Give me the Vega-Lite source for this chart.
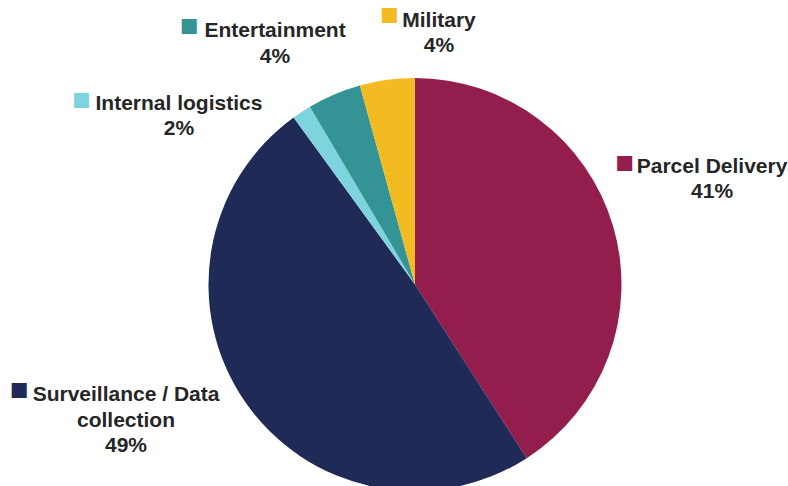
{
  "$schema": "https://vega.github.io/schema/vega-lite/v6.json",
  "width": 746,
  "height": 401,
  "autosize": {"type": "none"},
  "padding": {"left": 42, "top": 84, "right": 0, "bottom": 1},
  "background": "white",
  "config": {"view": {"stroke": null}},
  "data": {
    "values": [
      {"category": "Parcel Delivery", "share": 40.9, "slice": 1, "label": "Parcel Delivery\n41%"},
      {"category": "Surveillance / Data collection", "share": 49.1, "slice": 2, "label": "Surveillance / Data\ncollection\n49%"},
      {"category": "Internal logistics", "share": 1.5, "slice": 3, "label": "Internal logistics\n2%"},
      {"category": "Entertainment", "share": 4.2, "slice": 4, "label": "Entertainment\n4%"},
      {"category": "Military", "share": 4.3, "slice": 5, "label": "Military\n4%"}
    ]
  },
  "encoding": {
    "theta": {"field": "share", "type": "quantitative", "stack": true},
    "order": {"field": "slice", "type": "quantitative"},
    "color": {
      "field": "category",
      "type": "nominal",
      "legend": null,
      "scale": {
        "domain": ["Parcel Delivery", "Surveillance / Data collection", "Internal logistics", "Entertainment", "Military"],
        "range": ["#931D4D", "#1F2A56", "#7DD4DF", "#349394", "#F2BB22"]
      }
    },
    "detail": {"field": "category", "type": "nominal"}
  },
  "layer": [
    {"mark": {"type": "arc", "radius": 206.5}},
    {
      "mark": {"type": "text", "radius": 260, "dx": 47.6, "dy": -38.2, "font": "Liberation Sans", "fontWeight": "bold", "fontSize": 21, "lineHeight": 25.5, "lineBreak": "\n", "align": "center", "baseline": "alphabetic"},
      "encoding": {"text": {"condition": {"test": "datum.category === 'Parcel Delivery'", "field": "label", "type": "nominal"}, "value": ""}, "fill": {"value": "#262626"}}
    },
    {
      "mark": {"type": "text", "radius": 260, "dx": -74.4, "dy": -30.3, "font": "Liberation Sans", "fontWeight": "bold", "fontSize": 21, "lineHeight": 25.5, "lineBreak": "\n", "align": "center", "baseline": "alphabetic"},
      "encoding": {"text": {"condition": {"test": "datum.category === 'Surveillance / Data collection'", "field": "label", "type": "nominal"}, "value": ""}, "fill": {"value": "#262626"}}
    },
    {
      "mark": {"type": "text", "radius": 260, "dx": -93.3, "dy": 42.8, "font": "Liberation Sans", "fontWeight": "bold", "fontSize": 21, "lineHeight": 25.5, "lineBreak": "\n", "align": "center", "baseline": "alphabetic"},
      "encoding": {"text": {"condition": {"test": "datum.category === 'Internal logistics'", "field": "label", "type": "nominal"}, "value": ""}, "fill": {"value": "#262626"}}
    },
    {
      "mark": {"type": "text", "radius": 260, "dx": -38.2, "dy": -8.2, "font": "Liberation Sans", "fontWeight": "bold", "fontSize": 21, "lineHeight": 25.5, "lineBreak": "\n", "align": "center", "baseline": "alphabetic"},
      "encoding": {"text": {"condition": {"test": "datum.category === 'Entertainment'", "field": "label", "type": "nominal"}, "value": ""}, "fill": {"value": "#262626"}}
    },
    {
      "mark": {"type": "text", "radius": 260, "dx": 59, "dy": 0.1, "font": "Liberation Sans", "fontWeight": "bold", "fontSize": 21, "lineHeight": 25.5, "lineBreak": "\n", "align": "center", "baseline": "alphabetic"},
      "encoding": {"text": {"condition": {"test": "datum.category === 'Military'", "field": "label", "type": "nominal"}, "value": ""}, "fill": {"value": "#262626"}}
    },
    {
      "mark": {"type": "text", "radius": 260, "dx": -39.9, "dy": -38.0, "font": "Liberation Sans", "fontSize": 31, "align": "center", "baseline": "alphabetic"},
      "encoding": {"text": {"condition": {"test": "datum.category === 'Parcel Delivery'", "value": "■"}, "value": ""}}
    },
    {
      "mark": {"type": "text", "radius": 260, "dx": -181.4, "dy": -31.3, "font": "Liberation Sans", "fontSize": 31, "align": "center", "baseline": "alphabetic"},
      "encoding": {"text": {"condition": {"test": "datum.category === 'Surveillance / Data collection'", "value": "■"}, "value": ""}}
    },
    {
      "mark": {"type": "text", "radius": 260, "dx": -190.8, "dy": 42.8, "font": "Liberation Sans", "fontSize": 31, "align": "center", "baseline": "alphabetic"},
      "encoding": {"text": {"condition": {"test": "datum.category === 'Internal logistics'", "value": "■"}, "value": ""}}
    },
    {
      "mark": {"type": "text", "radius": 260, "dx": -124.2, "dy": -9.2, "font": "Liberation Sans", "fontSize": 31, "align": "center", "baseline": "alphabetic"},
      "encoding": {"text": {"condition": {"test": "datum.category === 'Entertainment'", "value": "■"}, "value": ""}}
    },
    {
      "mark": {"type": "text", "radius": 260, "dx": 9.5, "dy": -1.9, "font": "Liberation Sans", "fontSize": 31, "align": "center", "baseline": "alphabetic"},
      "encoding": {"text": {"condition": {"test": "datum.category === 'Military'", "value": "■"}, "value": ""}}
    }
  ]
}
